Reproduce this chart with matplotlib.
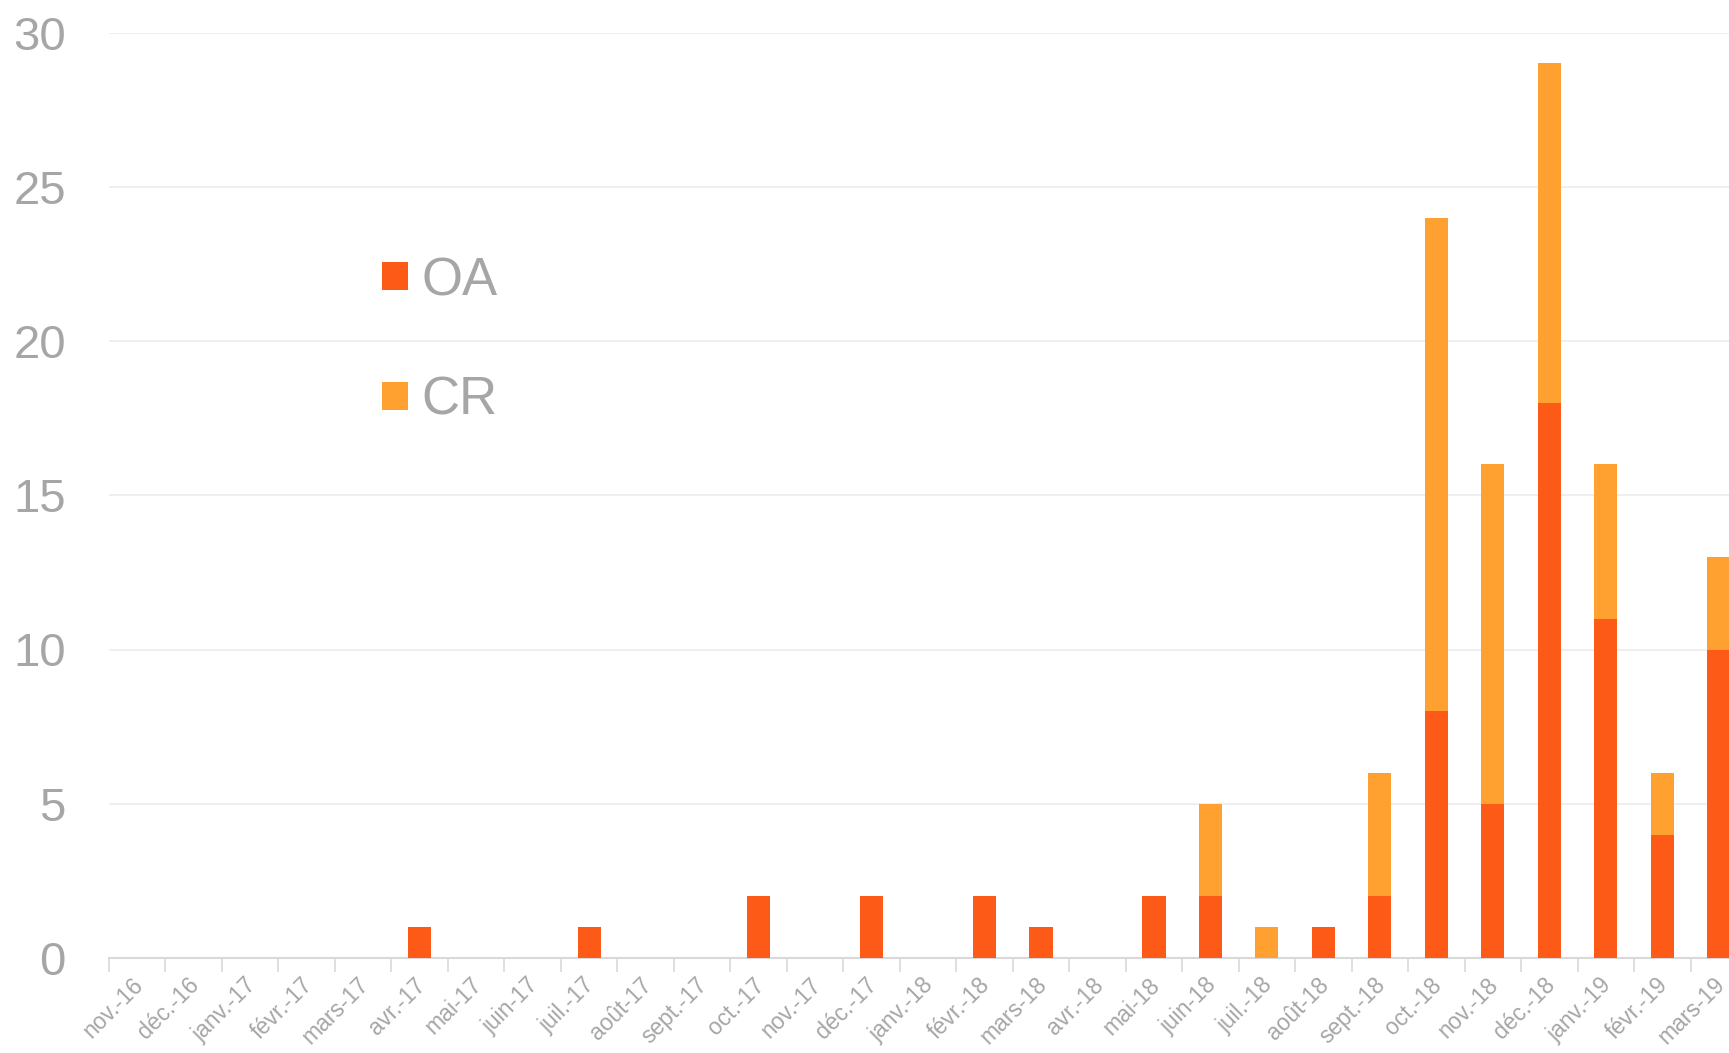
import matplotlib
matplotlib.use("Agg")
import matplotlib.pyplot as plt
import matplotlib.transforms as mtransforms
import numpy as np

months = ["nov.-16", "déc.-16", "janv.-17", "févr.-17", "mars-17", "avr.-17",
          "mai-17", "juin-17", "juil.-17", "août-17", "sept.-17", "oct.-17",
          "nov.-17", "déc.-17", "janv.-18", "févr.-18", "mars-18", "avr.-18",
          "mai-18", "juin-18", "juil.-18", "août-18", "sept.-18", "oct.-18",
          "nov.-18", "déc.-18", "janv.-19", "févr.-19", "mars-19"]
oa = [0, 0, 0, 0, 0, 1, 0, 0, 1, 0, 0, 2, 0, 2, 0, 2, 1, 0, 2, 2, 0, 1, 2, 8, 5, 18, 11, 4, 10]
cr = [0, 0, 0, 0, 0, 0, 0, 0, 0, 0, 0, 0, 0, 0, 0, 0, 0, 0, 0, 3, 1, 0, 4, 16, 11, 11, 5, 2, 3]
y_ticks = [0, 5, 10, 15, 20, 25, 30]

plt.rcParams['font.family'] = ['Liberation Sans', 'DejaVu Sans']
grey = '#a6a6a6'
c_oa = '#fe5a17'
c_cr = '#ffa131'

W, H = 1729, 1053
fig = plt.figure(figsize=(W / 100, H / 100), dpi=100)
# axes runs a bit past the right edge, like the original
ax = fig.add_axes([109 / W, 1 - 958 / H, 1638 / W, (958 - 32.5) / H])

x = np.arange(len(months))
ax.bar(x, oa, width=0.41, color=c_oa, label="OA", zorder=3)
ax.bar(x, cr, width=0.41, bottom=oa, color=c_cr, label="CR", zorder=3)

ax.set_xlim(-0.5, len(months) - 0.5)
ax.set_ylim(0, 30)
ax.set_yticks(y_ticks)
ax.yaxis.grid(True, color='#ececec', linewidth=1.2, zorder=0)
ax.tick_params(axis='y', length=0, pad=31, labelsize=34, labelcolor=grey)

for s in ['top', 'right', 'left']:
    ax.spines[s].set_visible(False)
ax.spines['bottom'].set_color('#d9d9d9')
ax.spines['bottom'].set_linewidth(1.5)

# category boundaries get the small tick marks, labels sit at the centres
ax.set_xticks(np.arange(len(months) + 1) - 0.5)
ax.set_xticklabels([])
ax.tick_params(axis='x', which='major', length=10, width=1.2, color='#d9d9d9')
ax.set_xticks(x, minor=True)
ax.set_xticklabels(months, minor=True, rotation=45, ha='right', va='top',
                   rotation_mode='anchor', fontsize=16.5, color=grey)
ax.tick_params(axis='x', which='minor', length=0, pad=11)
shift = mtransforms.ScaledTranslation(-6 / 100, 0, fig.dpi_scale_trans)
for lbl in ax.get_xticklabels(minor=True):
    lbl.set_transform(lbl.get_transform() + shift)

leg = ax.legend(loc='upper left', bbox_to_anchor=(382 / W, 1 - 256 / H),
                bbox_transform=fig.transFigure, frameon=False, fontsize=38,
                handlelength=0.5, handleheight=0.45, handletextpad=0.25,
                labelspacing=1.32, borderpad=0, borderaxespad=0)
for t in leg.get_texts():
    t.set_color(grey)

fig.savefig("out.png", dpi=100)
